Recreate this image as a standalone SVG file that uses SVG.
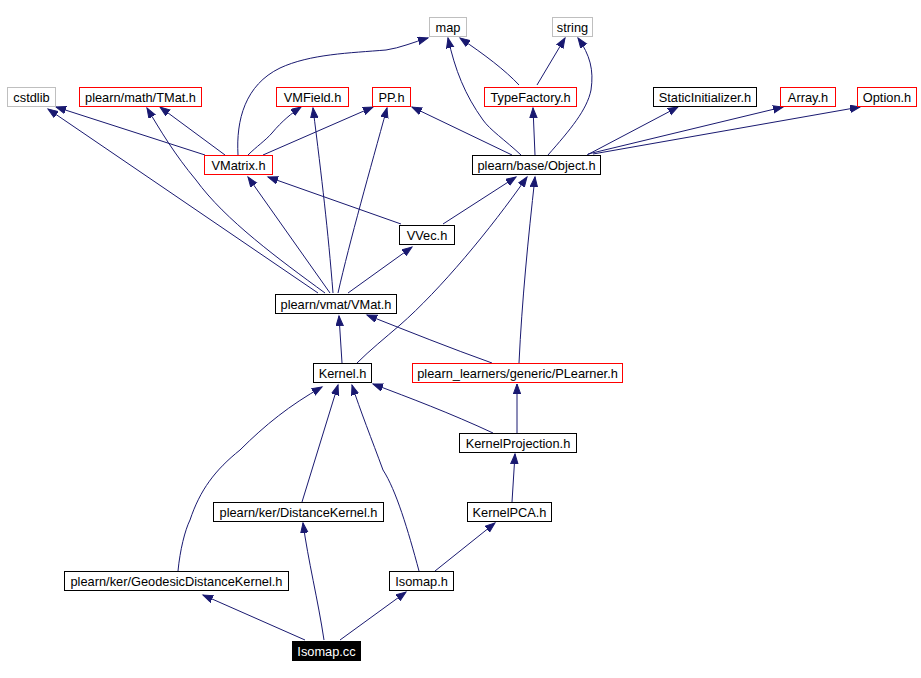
<svg xmlns="http://www.w3.org/2000/svg" width="921" height="678" viewBox="0 0 921 678">
<style>
.n rect{fill:#fff;stroke:#000;stroke-width:1}
.n.r rect{stroke:#ff0000}
.n.g rect{stroke:#bfbfbf}
.n.sel rect{fill:#000}
.n text{font-family:"Liberation Sans",Arial,sans-serif;font-size:12.8px;text-anchor:middle;fill:#000}
.n.sel text{fill:#fff}
#edges path{fill:none;stroke:#191970;stroke-width:1;marker-end:url(#a)}
</style>
<defs>
<marker id="a" markerWidth="12" markerHeight="9" refX="10" refY="4" orient="auto" markerUnits="userSpaceOnUse">
<path d="M0,0.3 L10,4 L0,7.7 z" fill="#191970" stroke="#191970" stroke-width="1"/>
</marker>
</defs>
<rect width="921" height="678" fill="#fff"/>
<g id="edges">
<path d="M238,155 C236,120 245,85 280,68 C310,54 350,53 386,50 C400,48 414,42 428,38"/>
<path d="M205,155 L56,107"/>
<path d="M225,155 L160,107"/>
<path d="M248,155 C256,147 266,140 272,133 C282,121 292,113 301,107"/>
<path d="M263,155 L373,107"/>
<path d="M401,224 L268,177"/>
<path d="M443,224 L516,177"/>
<path d="M318,293 L48,109"/>
<path d="M325,293 C280,260 225,220 196,180 C175,155 160,130 147,108"/>
<path d="M330,293 L248,177"/>
<path d="M333,293 C328,230 322,180 313,108"/>
<path d="M338,293 C350,240 370,170 387,108"/>
<path d="M348,293 L412,247"/>
<path d="M342,363 L339,316"/>
<path d="M357,363 C370,350 385,338 400,325 C440,290 490,230 527,177"/>
<path d="M519,363 C522,300 528,240 535,177"/>
<path d="M492,363 C450,348 410,332 367,315"/>
<path d="M517,433 L517,384"/>
<path d="M493,433 C450,413 410,398 373,384"/>
<path d="M512,502 L515,454"/>
<path d="M435,571 L495,523"/>
<path d="M419,571 C408,530 396,490 383,470 C372,440 360,410 352,385"/>
<path d="M302,502 L338,385"/>
<path d="M178,571 C180,550 185,530 190,520 C200,490 215,470 240,450 C265,425 290,405 322,387"/>
<path d="M305,640 L203,595"/>
<path d="M324,640 C318,600 308,560 303,523"/>
<path d="M340,640 L406,592"/>
<path d="M521,155 C505,140 490,130 483,120 C465,95 455,70 448,38"/>
<path d="M512,155 L412,107"/>
<path d="M535,155 L533,108"/>
<path d="M519,85 C505,70 485,55 460,38"/>
<path d="M537,85 L565,38"/>
<path d="M548,155 C570,130 587,110 591,90 C594,70 590,55 578,38"/>
<path d="M587,155 L678,107"/>
<path d="M588,154 L783,107"/>
<path d="M593,154 L860,107"/>
</g>
<g id="map" class="n g"><rect x="429.5" y="17.5" width="37" height="19"/><text x="448" y="32">map</text></g>
<g id="string" class="n g"><rect x="552.5" y="17.5" width="40" height="19"/><text x="572.5" y="32">string</text></g>
<g id="cstdlib" class="n g"><rect x="7.5" y="87.5" width="48" height="19"/><text x="31.5" y="102">cstdlib</text></g>
<g id="TMat" class="n r"><rect x="79.5" y="87.5" width="122" height="19"/><text x="140.5" y="102">plearn/math/TMat.h</text></g>
<g id="VMField" class="n r"><rect x="276.5" y="87.5" width="72" height="19"/><text x="312.5" y="102">VMField.h</text></g>
<g id="PP" class="n r"><rect x="372.5" y="87.5" width="38" height="19"/><text x="391.5" y="102">PP.h</text></g>
<g id="TypeFactory" class="n r"><rect x="484.5" y="87.5" width="92" height="19"/><text x="530.5" y="102">TypeFactory.h</text></g>
<g id="StaticInitializer" class="n"><rect x="653.5" y="87.5" width="103" height="19"/><text x="705" y="102">StaticInitializer.h</text></g>
<g id="Array" class="n r"><rect x="780.5" y="87.5" width="55" height="19"/><text x="808" y="102">Array.h</text></g>
<g id="Option" class="n r"><rect x="857.5" y="87.5" width="59" height="19"/><text x="887" y="102">Option.h</text></g>
<g id="VMatrix" class="n r"><rect x="204.5" y="155.5" width="68" height="19"/><text x="238.5" y="170">VMatrix.h</text></g>
<g id="Object" class="n"><rect x="472.5" y="155.5" width="128" height="19"/><text x="536.5" y="170">plearn/base/Object.h</text></g>
<g id="VVec" class="n"><rect x="399.5" y="225.5" width="55" height="19"/><text x="427" y="240">VVec.h</text></g>
<g id="VMat" class="n"><rect x="275.5" y="294.5" width="121" height="19"/><text x="336" y="309">plearn/vmat/VMat.h</text></g>
<g id="Kernel" class="n"><rect x="313.5" y="363.5" width="58" height="19"/><text x="342.5" y="378">Kernel.h</text></g>
<g id="PLearner" class="n r"><rect x="412.5" y="363.5" width="210" height="19"/><text x="517.5" y="378">plearn_learners/generic/PLearner.h</text></g>
<g id="KernelProjection" class="n"><rect x="459.5" y="433.5" width="117" height="19"/><text x="518" y="448">KernelProjection.h</text></g>
<g id="DistanceKernel" class="n"><rect x="213.5" y="502.5" width="170" height="19"/><text x="298.5" y="517">plearn/ker/DistanceKernel.h</text></g>
<g id="KernelPCA" class="n"><rect x="467.5" y="502.5" width="84" height="19"/><text x="509.5" y="517">KernelPCA.h</text></g>
<g id="GeodesicDistanceKernel" class="n"><rect x="64.5" y="571.5" width="224" height="19"/><text x="176.5" y="586">plearn/ker/GeodesicDistanceKernel.h</text></g>
<g id="Isomap_h" class="n"><rect x="389.5" y="571.5" width="64" height="19"/><text x="421.5" y="586">Isomap.h</text></g>
<g id="Isomap_cc" class="n sel"><rect x="292.5" y="641.5" width="68" height="19"/><text x="326.5" y="656">Isomap.cc</text></g>
</svg>
